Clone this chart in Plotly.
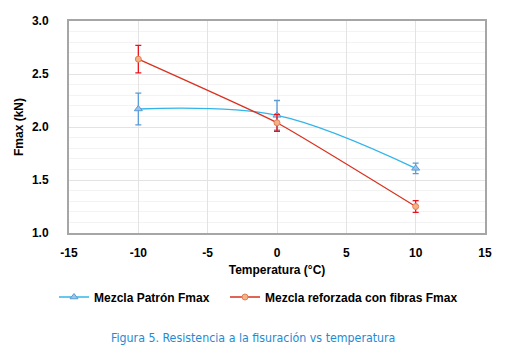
import plotly.graph_objects as go

temps = [-10, 0, 10]
patron = [2.17, 2.11, 1.61]
patron_err = [0.15, 0.14, 0.05]
reforzada = [2.64, 2.04, 1.25]
reforzada_err = [0.13, 0.08, 0.055]

x_ticks = [-15, -10, -5, 0, 5, 10, 15]
y_ticks = [1.0, 1.5, 2.0, 2.5, 3.0]

FONT = "Liberation Sans, Arial"
CAP_FONT = "DejaVu Sans Condensed, Liberation Sans"

fig = go.Figure()
fig.add_trace(go.Scatter(
    x=temps, y=patron, name="Mezcla Patrón Fmax", mode="lines+markers",
    line=dict(color="#33B5EA", width=1.3, shape="spline", smoothing=1.0),
    marker=dict(symbol="triangle-up", size=7, color="#9DC3E6", line=dict(color="#5B9BD5", width=1)),
    error_y=dict(type="data", array=patron_err, color="#5B9BD5", thickness=1.3, width=3),
    legend="legend",
))
fig.add_trace(go.Scatter(
    x=temps, y=reforzada, name="Mezcla reforzada con fibras Fmax", mode="lines+markers",
    line=dict(color="#D8311F", width=1.3, shape="spline", smoothing=0.4),
    marker=dict(symbol="circle", size=6, color="#F4B183", line=dict(color="#E0805A", width=1)),
    error_y=dict(type="data", array=reforzada_err, color="#E8141C", thickness=1.3, width=3),
    legend="legend2",
))

legend_font = dict(family=FONT, size=12, color="#000000", weight="bold")
legend_y = -(297 - 233) / 212

fig.update_layout(
    width=506, height=356,
    margin=dict(l=69, r=21, t=21, b=123, autoexpand=False),
    paper_bgcolor="white", plot_bgcolor="white",
    font=dict(family=FONT, size=12, color="#000000"),
    showlegend=True,
    legend=dict(orientation="h", x=(54 - 69) / 416, xanchor="left",
                y=legend_y, yanchor="middle", font=legend_font, itemwidth=30),
    legend2=dict(orientation="h", x=(225 - 69) / 416, xanchor="left",
                 y=legend_y, yanchor="middle", font=legend_font, itemwidth=30),
    xaxis=dict(range=[-15, 15], tickvals=x_ticks, ticktext=[str(v) for v in x_ticks],
               showgrid=True, gridcolor="#E3E3E3", gridwidth=1, zeroline=False,
               showline=True, linecolor="#A6A6A6", linewidth=2, mirror=True,
               ticks="outside", ticklen=8, tickcolor="rgba(0,0,0,0)",
               tickfont=dict(family=FONT, size=12, color="#000", weight="bold"),
               title=dict(text="Temperatura (°C)", standoff=6,
                          font=dict(family=FONT, size=12, color="#000", weight="bold"))),
    yaxis=dict(range=[1.0, 3.0], tickvals=y_ticks, ticktext=["%.1f" % v for v in y_ticks],
               showgrid=True, gridcolor="#E3E3E3", gridwidth=1, zeroline=False,
               minor=dict(dtick=0.1, showgrid=True, gridcolor="#F3F3F3", gridwidth=1),
               showline=True, linecolor="#A6A6A6", linewidth=2, mirror=True,
               ticks="outside", ticklen=16, tickcolor="rgba(0,0,0,0)",
               tickfont=dict(family=FONT, size=12, color="#000", weight="bold"),
               title=dict(text="Fmax (kN)", standoff=6,
                          font=dict(family=FONT, size=12, color="#000", weight="bold"))),
)

fig.add_annotation(
    text="Figura 5. Resistencia a la fisuración vs temperatura",
    xref="paper", yref="paper", x=(253 - 69) / 416, y=-(338 - 233) / 212,
    xanchor="center", yanchor="middle",
    showarrow=False, font=dict(family=CAP_FONT, size=12.3, color="#1E8BD2"),
)

fig.write_html("out.html", config={"displayModeBar": False},
               post_script="document.body.style.margin='0';")
